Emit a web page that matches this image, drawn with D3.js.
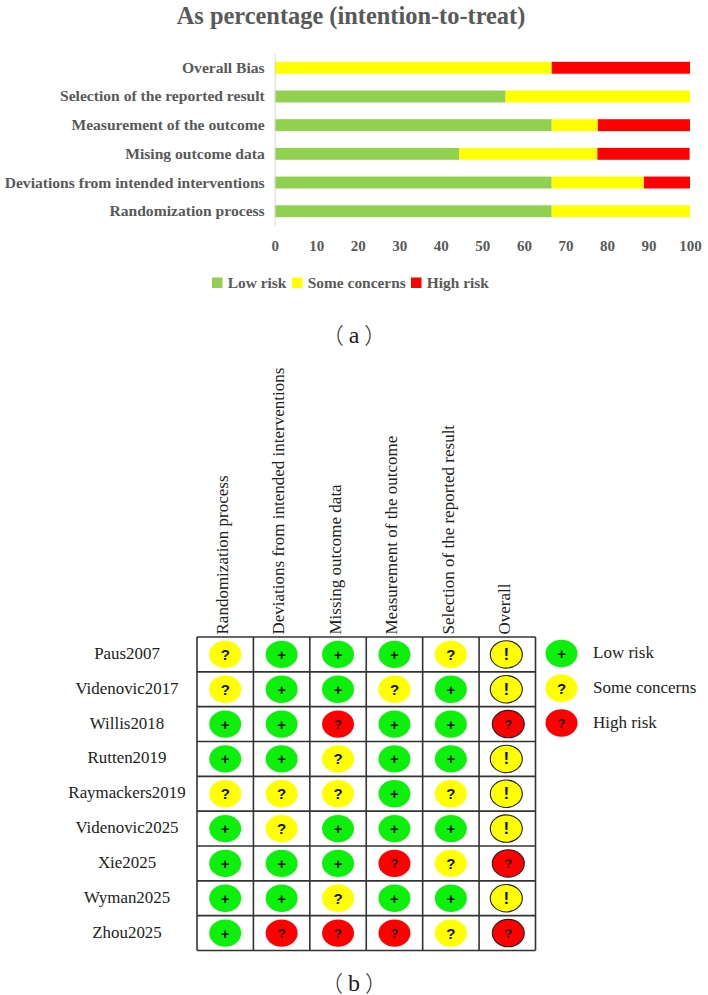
<!DOCTYPE html>
<html>
<head>
<meta charset="utf-8">
<script src="https://cdn.jsdelivr.net/npm/d3@7"></script>
<style>
html,body{margin:0;padding:0;background:#fff}
svg{display:block}
</style>
</head>
<body>
<div id="chart"></div>
<script>
// Summary bars: percentage of studies per judgement, per domain
const summaryDomains = ["Overall Bias","Selection of the reported result","Measurement of the outcome","Mising outcome data","Deviations from intended interventions","Randomization process"];
const lowValues  = [0, 55.6, 66.7, 44.4, 66.7, 66.7];
const someValues = [66.7, 44.4, 11.1, 33.3, 22.2, 33.3];
const highValues = [33.3, 0, 22.2, 22.2, 11.1, 0];
const xTicks = [0,10,20,30,40,50,60,70,80,90,100];
const levelNames = ["Low risk","Some concerns","High risk"];

// Traffic-light table: one row per study, L / S / H per domain
const studies = ["Paus2007","Videnovic2017","Willis2018","Rutten2019","Raymackers2019","Videnovic2025","Xie2025","Wyman2025","Zhou2025"];
const tableDomains = ["Randomization process","Deviations from intended interventions","Missing outcome data","Measurement of the outcome","Selection of the reported result","Overall"];
const judgements = [
  ["S","L","L","L","S","S"],
  ["S","L","L","S","L","S"],
  ["L","L","H","L","L","H"],
  ["L","L","S","L","L","S"],
  ["S","S","S","L","S","S"],
  ["L","S","L","L","L","S"],
  ["L","L","L","H","S","H"],
  ["L","L","S","L","L","S"],
  ["L","H","H","H","S","H"]
];

const W = 708, H = 995;
const SERIF = "'Liberation Serif','Times New Roman',serif";
const GREY = "#595959";
const svg = d3.select("#chart").append("svg").attr("width", W).attr("height", H).attr("viewBox", `0 0 ${W} ${H}`);

// Panel caption with full-width CJK parentheses around a serif letter
function caption(letter, cx, baseline) {
  const t = svg.append("text").attr("x", cx).attr("y", baseline).attr("text-anchor", "middle").attr("fill", "#222");
  t.append("tspan").attr("font-family", "'Noto Sans CJK SC'").attr("font-size", 22).attr("font-weight", 300).text("（");
  t.append("tspan").attr("dx", 5).attr("font-family", SERIF).attr("font-size", 24).text(letter);
  t.append("tspan").attr("dx", 5).attr("font-family", "'Noto Sans CJK SC'").attr("font-size", 22).attr("font-weight", 300).text("）");
}

// ---------- panel (a) ----------
svg.append("text").attr("x", 351).attr("y", 24).attr("text-anchor", "middle")
  .attr("font-family", SERIF).attr("font-weight", "bold").attr("font-size", 24.4).attr("fill", GREY)
  .text("As percentage (intention-to-treat)");

const x = d3.scaleLinear().domain([0, 100]).range([274.7, 690]);
const y = d3.scaleBand().domain(summaryDomains).range([53.5, 225.5]).paddingInner(0.585).paddingOuter(0.29);
const barColors = d3.scaleOrdinal().domain(levelNames).range(["#92d050","#ffff00","#ff0000"]);

const stackRows = summaryDomains.map((d, i) => ({domain: d, "Low risk": lowValues[i], "Some concerns": someValues[i], "High risk": highValues[i]}));
const stacked = d3.stack().keys(levelNames)(stackRows);
svg.append("g").selectAll("g").data(stacked).join("g").attr("fill", s => barColors(s.key))
  .selectAll("rect").data(s => s).join("rect")
  .attr("x", d => x(d[0])).attr("width", d => x(d[1]) - x(d[0]))
  .attr("y", d => y(d.data.domain)).attr("height", y.bandwidth());

const yAxis = d3.axisLeft(y).tickSize(0).tickPadding(10);
const yG = svg.append("g").attr("transform", `translate(${x(0)},0)`).call(yAxis);
yG.select(".domain").attr("stroke", "#d9d9d9");
yG.selectAll("text").attr("font-family", SERIF).attr("font-weight", "bold").attr("font-size", 15.6).attr("fill", GREY);

const xAxis = d3.axisBottom(x).tickValues(xTicks).tickSize(0).tickPadding(0);
const xG = svg.append("g").attr("transform", "translate(0,240)").call(xAxis);
xG.select(".domain").remove();
xG.selectAll("text").attr("font-family", SERIF).attr("font-weight", "bold").attr("font-size", 15).attr("fill", GREY);

const legendX = d3.scaleOrdinal().domain(levelNames).range([212, 292, 411]);
const legendA = svg.append("g").selectAll("g").data(levelNames).join("g")
  .attr("transform", d => `translate(${legendX(d)},277.5)`);
legendA.append("rect").attr("width", 10.5).attr("height", 10.5).attr("fill", d => barColors(d));
legendA.append("text").attr("x", 15.8).attr("y", 10.5).attr("font-family", SERIF).attr("font-weight", "bold")
  .attr("font-size", 15.4).attr("fill", GREY).text(d => d);

caption("a", 354, 343);

// ---------- panel (b) ----------
const col = d3.scaleBand().domain(tableDomains).range([197, 535.5]);
const row = d3.scaleBand().domain(studies).range([637, 950.5]);
const lightColors = {L:"#0cf00c", S:"#ffff00", H:"#ff0000"};
const symbols = {L:"+", S:"?", H:"?"};
const symbolSize = {L:15, S:15, H:13};

const gridG = svg.append("g").attr("stroke", "#333").attr("stroke-width", 1.6).attr("fill", "none");
gridG.selectAll("line.v").data(d3.range(tableDomains.length + 1)).join("line").attr("class", "v")
  .attr("x1", i => 197 + i * col.bandwidth()).attr("x2", i => 197 + i * col.bandwidth())
  .attr("y1", row.range()[0]).attr("y2", row.range()[1]);
gridG.selectAll("line.h").data(d3.range(studies.length + 1)).join("line").attr("class", "h")
  .attr("y1", i => 637 + i * row.bandwidth()).attr("y2", i => 637 + i * row.bandwidth())
  .attr("x1", col.range()[0]).attr("x2", col.range()[1]);

svg.append("g").selectAll("text").data(studies).join("text")
  .attr("x", 127).attr("y", d => row(d) + row.bandwidth() / 2 - 1)
  .attr("text-anchor", "middle").attr("dominant-baseline", "central")
  .attr("font-family", SERIF).attr("font-size", 16.9).attr("fill", "#222").text(d => d);

svg.append("g").selectAll("text").data(tableDomains).join("text")
  .attr("transform", d => `translate(${col(d) + col.bandwidth() / 2 - 3},634.5) rotate(-90)`)
  .attr("dy", "0.34em")
  .attr("font-family", SERIF).attr("font-size", 17).attr("fill", "#222").text(d => d);

const cells = [];
judgements.forEach((r, i) => r.forEach((v, j) => cells.push({study: studies[i], domain: tableDomains[j], v, overall: j === tableDomains.length - 1})));

const cellG = svg.append("g").selectAll("g").data(cells).join("g")
  .attr("transform", d => `translate(${col(d.domain) + col.bandwidth() / 2 + (d.overall ? (d.v === "H" ? 1 : -1) : 0)},${row(d.study) + row.bandwidth() / 2})`);
cellG.append("ellipse").attr("rx", 16).attr("ry", 13.7)
  .attr("fill", d => lightColors[d.v])
  .attr("stroke", d => d.overall ? "#222" : "none").attr("stroke-width", 1.1);
cellG.append("text").attr("text-anchor", "middle").attr("dominant-baseline", "central")
  .attr("font-family", "'Liberation Sans',Arial,sans-serif").attr("font-weight", "bold")
  .attr("font-size", d => d.overall && d.v === "S" ? 17 : symbolSize[d.v]).attr("fill", "#111")
  .text(d => d.overall && d.v === "S" ? "!" : symbols[d.v]);

const keyLevels = ["L","S","H"];
const keyY = d3.scalePoint().domain(keyLevels).range([653.5, 723]);
const keyG = svg.append("g").selectAll("g").data(keyLevels).join("g")
  .attr("transform", d => `translate(561.5,${keyY(d)})`);
keyG.append("ellipse").attr("rx", 16).attr("ry", 13.7).attr("fill", d => lightColors[d]);
keyG.append("text").attr("text-anchor", "middle").attr("dominant-baseline", "central")
  .attr("font-family", "'Liberation Sans',Arial,sans-serif").attr("font-weight", "bold")
  .attr("font-size", d => symbolSize[d]).attr("fill", "#111").text(d => symbols[d]);
keyG.append("text").attr("x", 31.5).attr("dominant-baseline", "central").attr("y", -1)
  .attr("font-family", SERIF).attr("font-size", 17).attr("fill", "#222")
  .text((d, i) => levelNames[i]);

caption("b", 354, 990.5);
</script>
</body>
</html>
